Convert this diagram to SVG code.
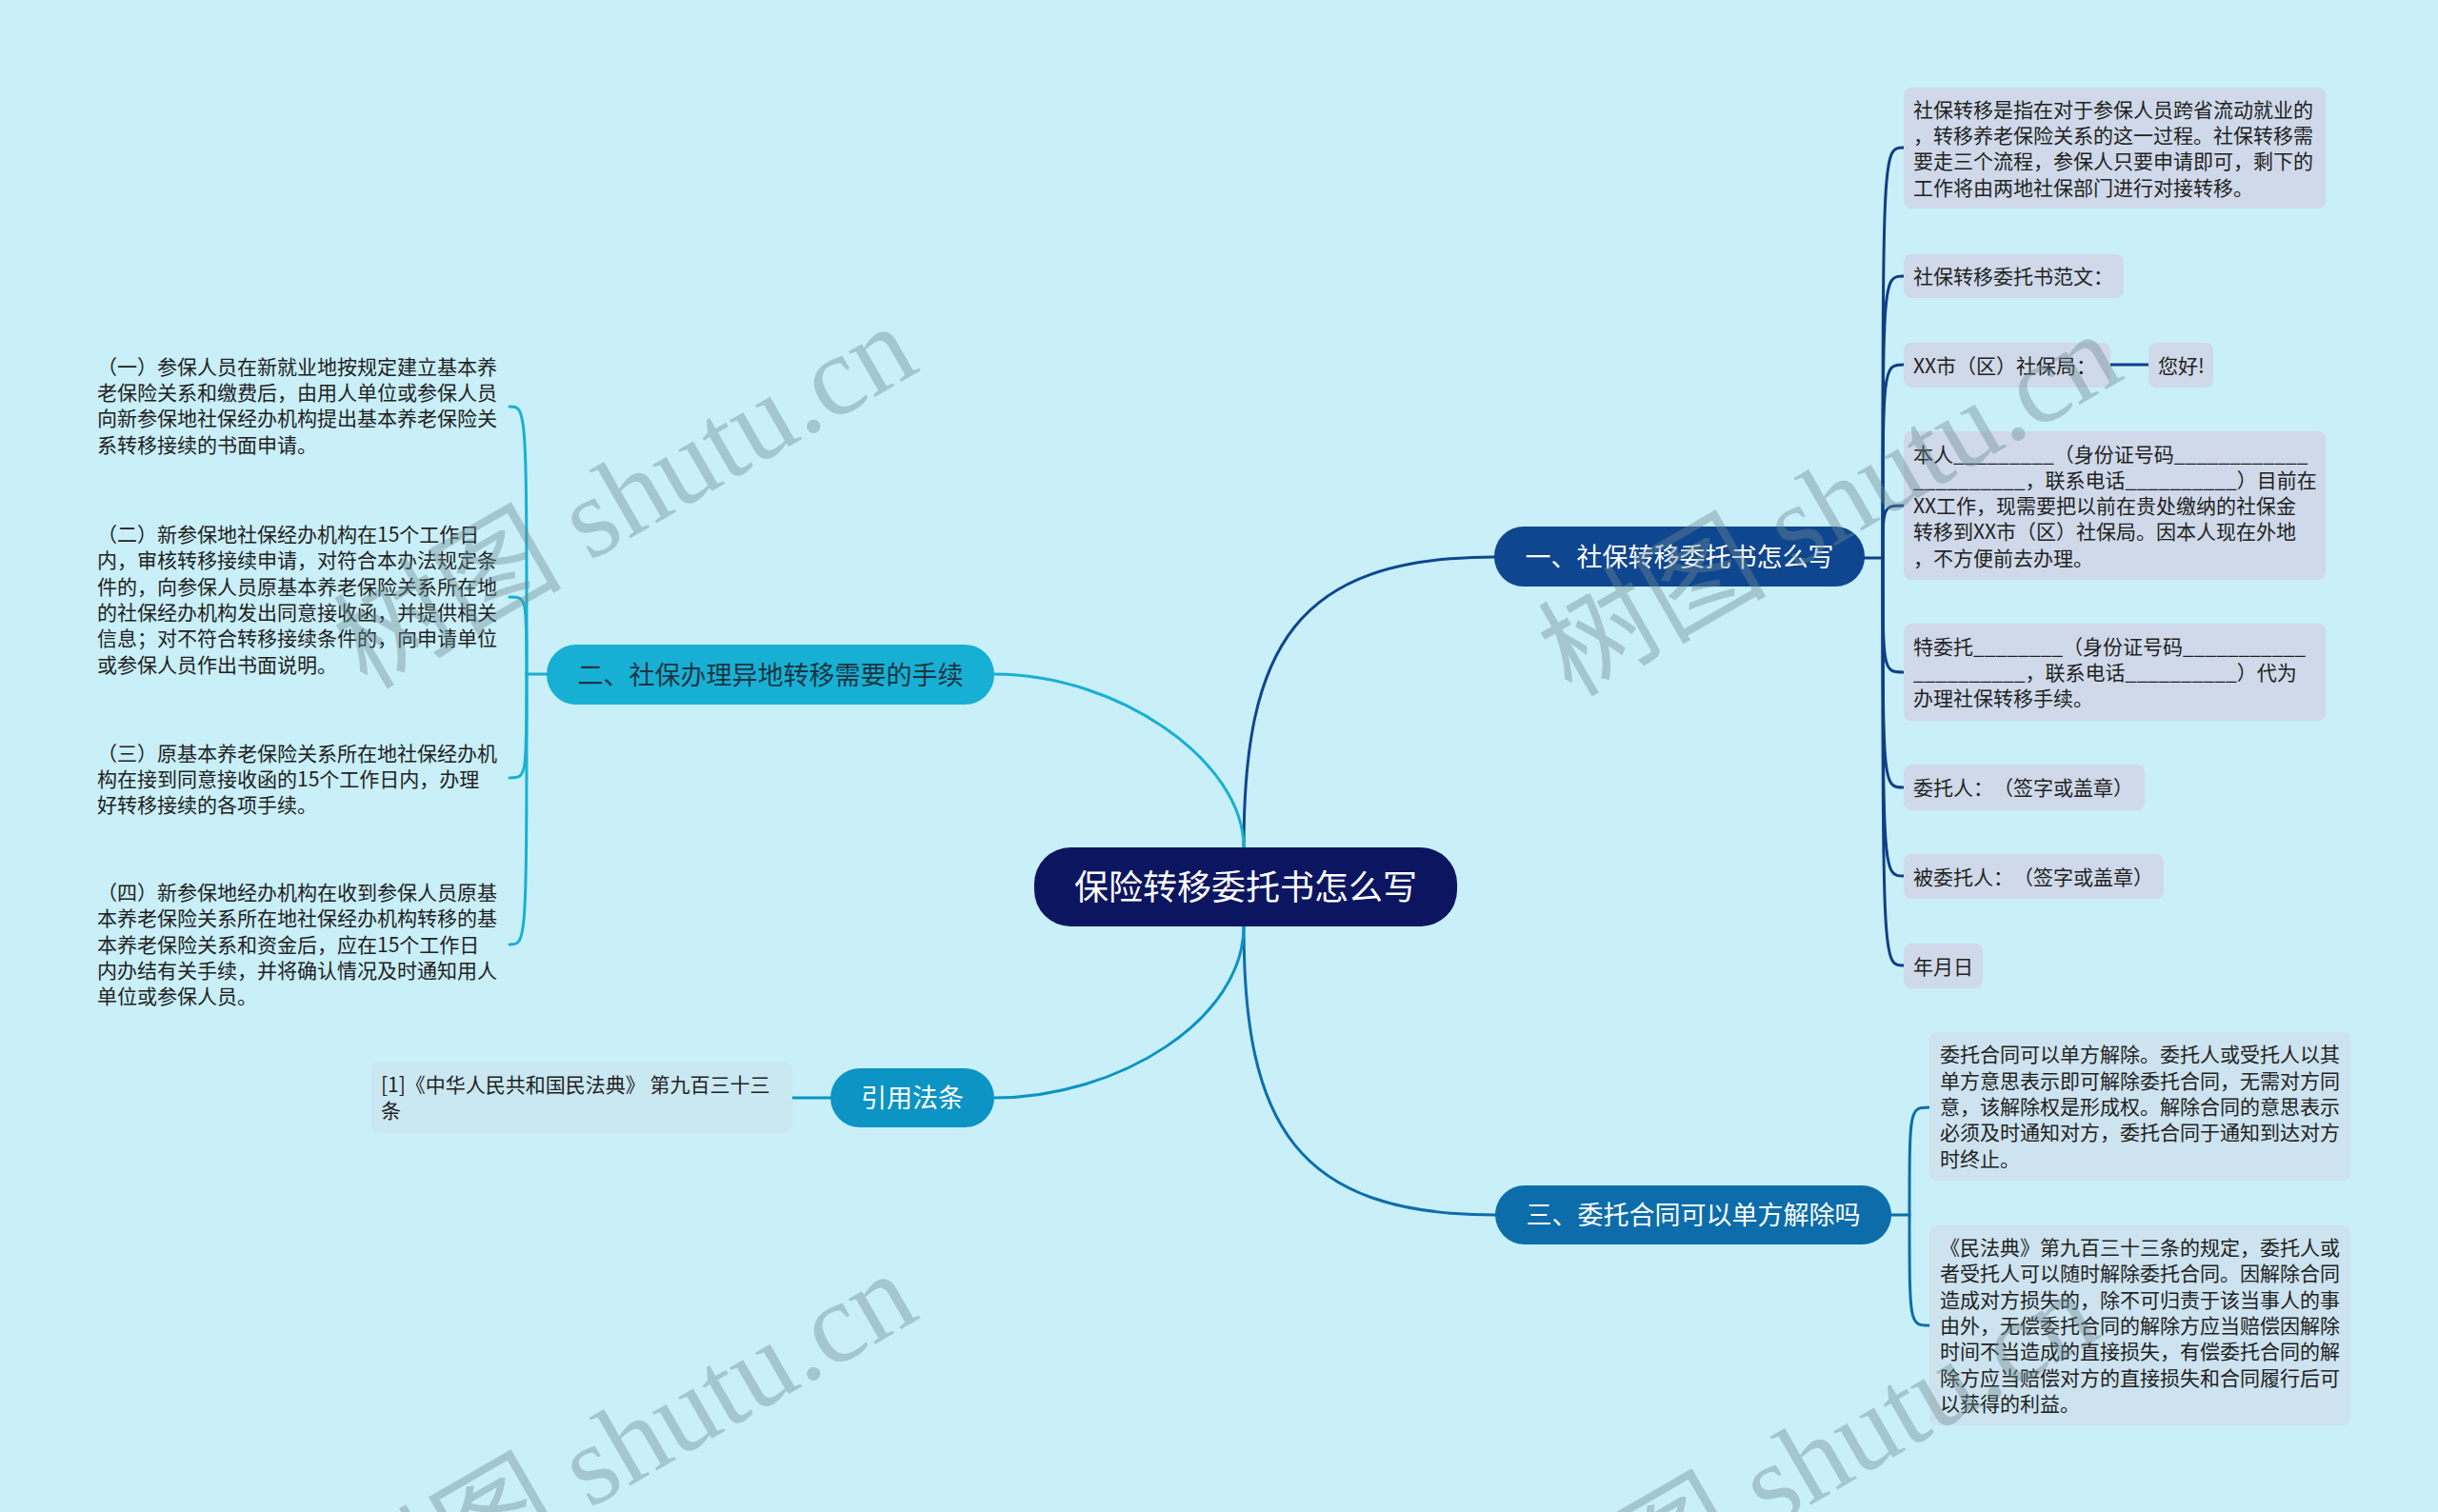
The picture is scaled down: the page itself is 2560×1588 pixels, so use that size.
<svg xmlns="http://www.w3.org/2000/svg" width="2560" height="1588" viewBox="0 0 2560 1588">
<style>
.t{font-family:"Noto Sans CJK SC","Noto Sans",sans-serif;font-size:21px;fill:#222;text-spacing-trim:space-all}
.b{font-family:"Noto Sans CJK SC","Noto Sans",sans-serif;font-size:27px;fill:#fff;text-anchor:middle}
.c{font-family:"Noto Sans CJK SC","Noto Sans",sans-serif;font-size:36px;fill:#fff;text-anchor:middle}
.l1{fill:#cfd9e9}
.l3{fill:#cde3ef}
.cn{fill:none;stroke-width:3;stroke-linecap:round}
.wm{font-family:"Liberation Serif","Noto Sans CJK SC",serif;font-size:120px;fill:#6b8a90;fill-opacity:0.4}
</style>
<rect width="2560" height="1588" fill="#c9eff8"/>

<g id="connectors">
  <path class="cn" stroke="#0f4690" stroke-width="3.5" d="M1306 890 C1306 680 1360 585 1569 585"/>
  <path class="cn" stroke="#17b0d4" stroke-width="3.5" d="M1306 890 C1306 800 1175 708 1044 708"/>
  <path class="cn" stroke="#0d6dab" stroke-width="3.5" d="M1306 973 C1306 1180 1360 1276 1570 1276"/>
  <path class="cn" stroke="#0b94c4" stroke-width="3.5" d="M1306 973 C1306 1070 1175 1153 1044 1153"/>
  <g stroke="#0e3f86">
    <path class="cn" d="M1958 586 L1977 586"/>
    <path class="cn" d="M1977 586 C1977 155 1977 155 1999 155"/>
    <path class="cn" d="M1977 586 C1977 290 1977 290 1999 290"/>
    <path class="cn" d="M1977 586 C1977 383 1977 383 1999 383"/>
    <path class="cn" d="M1977 586 C1977 531 1977 531 1999 531"/>
    <path class="cn" d="M1977 586 C1977 706 1977 706 1999 706"/>
    <path class="cn" d="M1977 586 C1977 827 1977 827 1999 827"/>
    <path class="cn" d="M1977 586 C1977 920 1977 920 1999 920"/>
    <path class="cn" d="M1977 586 C1977 1014 1977 1014 1999 1014"/>
    <path class="cn" d="M2216 383 L2256 383"/>
  </g>
  <g stroke="#17b0d4">
    <path class="cn" d="M574 708 L553 708"/>
    <path class="cn" d="M553 708 C553 427 553 427 535 427"/>
    <path class="cn" d="M553 708 C553 627 553 627 535 627"/>
    <path class="cn" d="M553 708 C553 817 553 817 535 817"/>
    <path class="cn" d="M553 708 C553 992 553 992 535 992"/>
  </g>
  <g stroke="#0d6dab">
    <path class="cn" d="M1986 1276 L2005 1276"/>
    <path class="cn" d="M2005 1276 C2005 1163 2005 1163 2026 1163"/>
    <path class="cn" d="M2005 1276 C2005 1392 2005 1392 2026 1392"/>
  </g>
  <path class="cn" stroke="#0b94c4" d="M832 1153 L872 1153"/>
</g>

<g id="center">
  <rect x="1086" y="890" width="444" height="83" rx="38" fill="#0c1660"/>
  <text class="c" x="1308" y="945">保险转移委托书怎么写</text>
</g>

<g id="branch1">
  <rect x="1569" y="553" width="389" height="63" rx="31" fill="#0f4690"/>
  <text class="b" x="1763.5" y="594.5">一、社保转移委托书怎么写</text>
</g>
<g id="branch2">
  <rect x="574" y="677" width="470" height="63" rx="31" fill="#17b0d4"/>
  <text class="b" x="809" y="718.5" style="fill:#1c3442">二、社保办理异地转移需要的手续</text>
</g>
<g id="branch3">
  <rect x="1570" y="1245" width="416" height="62" rx="31" fill="#0d6dab"/>
  <text class="b" x="1778" y="1286">三、委托合同可以单方解除吗</text>
</g>
<g id="branch4">
  <rect x="872" y="1122" width="172" height="62" rx="31" fill="#0b94c4"/>
  <text class="b" x="958" y="1163">引用法条</text>
</g>

<g id="leaf1-1">
  <rect class="l1" x="1999" y="92" width="443" height="127" rx="8"/>
  <text class="t" x="2009" y="122.5">社保转移是指在对于参保人员跨省流动就业的</text>
  <text class="t" x="2009" y="149.9">，转移养老保险关系的这一过程。社保转移需</text>
  <text class="t" x="2009" y="177.2">要走三个流程，参保人只要申请即可，剩下的</text>
  <text class="t" x="2009" y="204.5">工作将由两地社保部门进行对接转移。</text>
</g>
<g id="leaf1-2">
  <rect class="l1" x="1999" y="267" width="231" height="46" rx="8"/>
  <text class="t" x="2009" y="298">社保转移委托书范文：</text>
</g>
<g id="leaf1-3">
  <rect class="l1" x="1999" y="360" width="217" height="47" rx="8"/>
  <text class="t" x="2009" y="391.5">XX市（区）社保局：</text>
</g>
<g id="leaf1-3a">
  <rect class="l1" x="2256" y="360" width="68" height="47" rx="8"/>
  <text class="t" x="2266" y="391.5">您好!</text>
</g>
<g id="leaf1-4">
  <rect class="l1" x="1999" y="453" width="443" height="156" rx="8"/>
  <text class="t" x="2009" y="485">本人_________（身份证号码____________</text>
  <text class="t" x="2009" y="512">__________，联系电话__________）目前在</text>
  <text class="t" x="2009" y="539">XX工作，现需要把以前在贵处缴纳的社保金</text>
  <text class="t" x="2009" y="566">转移到XX市（区）社保局。因本人现在外地</text>
  <text class="t" x="2009" y="594">，不方便前去办理。</text>
</g>
<g id="leaf1-5">
  <rect class="l1" x="1999" y="655" width="443" height="102" rx="8"/>
  <text class="t" x="2009" y="687">特委托________（身份证号码___________</text>
  <text class="t" x="2009" y="714">__________，联系电话__________）代为</text>
  <text class="t" x="2009" y="741">办理社保转移手续。</text>
</g>
<g id="leaf1-6">
  <rect class="l1" x="1999" y="803" width="253" height="48" rx="8"/>
  <text class="t" x="2009" y="835">委托人：（签字或盖章）</text>
</g>
<g id="leaf1-7">
  <rect class="l1" x="1999" y="897" width="273" height="47" rx="8"/>
  <text class="t" x="2009" y="928.5">被委托人：（签字或盖章）</text>
</g>
<g id="leaf1-8">
  <rect class="l1" x="1999" y="991" width="83" height="47" rx="8"/>
  <text class="t" x="2009" y="1022.5">年月日</text>
</g>

<g id="leaf2-1">
  <text class="t" x="102" y="393">（一）参保人员在新就业地按规定建立基本养</text>
  <text class="t" x="102" y="420">老保险关系和缴费后，由用人单位或参保人员</text>
  <text class="t" x="102" y="447">向新参保地社保经办机构提出基本养老保险关</text>
  <text class="t" x="102" y="475">系转移接续的书面申请。</text>
</g>
<g id="leaf2-2">
  <text class="t" x="102" y="569">（二）新参保地社保经办机构在15个工作日</text>
  <text class="t" x="102" y="596">内，审核转移接续申请，对符合本办法规定条</text>
  <text class="t" x="102" y="624">件的，向参保人员原基本养老保险关系所在地</text>
  <text class="t" x="102" y="651">的社保经办机构发出同意接收函，并提供相关</text>
  <text class="t" x="102" y="678">信息；对不符合转移接续条件的，向申请单位</text>
  <text class="t" x="102" y="706">或参保人员作出书面说明。</text>
</g>
<g id="leaf2-3">
  <text class="t" x="102" y="799">（三）原基本养老保险关系所在地社保经办机</text>
  <text class="t" x="102" y="826">构在接到同意接收函的15个工作日内，办理</text>
  <text class="t" x="102" y="853">好转移接续的各项手续。</text>
</g>
<g id="leaf2-4">
  <text class="t" x="102" y="945">（四）新参保地经办机构在收到参保人员原基</text>
  <text class="t" x="102" y="972">本养老保险关系所在地社保经办机构转移的基</text>
  <text class="t" x="102" y="1000">本养老保险关系和资金后，应在15个工作日</text>
  <text class="t" x="102" y="1027">内办结有关手续，并将确认情况及时通知用人</text>
  <text class="t" x="102" y="1054">单位或参保人员。</text>
</g>

<g id="leaf3-1">
  <rect class="l3" x="2026" y="1084" width="442" height="156" rx="8"/>
  <text class="t" x="2037" y="1115.4">委托合同可以单方解除。委托人或受托人以其</text>
  <text class="t" x="2037" y="1142.7">单方意思表示即可解除委托合同，无需对方同</text>
  <text class="t" x="2037" y="1170">意，该解除权是形成权。解除合同的意思表示</text>
  <text class="t" x="2037" y="1197.3">必须及时通知对方，委托合同于通知到达对方</text>
  <text class="t" x="2037" y="1224.6">时终止。</text>
</g>
<g id="leaf3-2">
  <rect class="l3" x="2026" y="1287" width="442" height="210" rx="8"/>
  <text class="t" x="2037" y="1318.1">《民法典》第九百三十三条的规定，委托人或</text>
  <text class="t" x="2037" y="1345.4">者受托人可以随时解除委托合同。因解除合同</text>
  <text class="t" x="2037" y="1372.7">造成对方损失的，除不可归责于该当事人的事</text>
  <text class="t" x="2037" y="1400">由外，无偿委托合同的解除方应当赔偿因解除</text>
  <text class="t" x="2037" y="1427.3">时间不当造成的直接损失，有偿委托合同的解</text>
  <text class="t" x="2037" y="1454.6">除方应当赔偿对方的直接损失和合同履行后可</text>
  <text class="t" x="2037" y="1481.9">以获得的利益。</text>
</g>

<g id="leaf4-1">
  <rect x="390" y="1115" width="442" height="75" rx="8" fill="#cae8f2"/>
  <text class="t" x="400" y="1147">[1]《中华人民共和国民法典》 第九百三十三</text>
  <text class="t" x="400" y="1174">条</text>
</g>

<g id="watermarks">
  <text class="wm" transform="translate(385,725) rotate(-30)">树图 shutu.cn</text>
  <text class="wm" transform="translate(1650,733) rotate(-30)">树图 shutu.cn</text>
  <text class="wm" transform="translate(385,1720) rotate(-30)">树图 shutu.cn</text>
  <text class="wm" transform="translate(1625,1740) rotate(-30)">树图 shutu.cn</text>
</g>
</svg>
